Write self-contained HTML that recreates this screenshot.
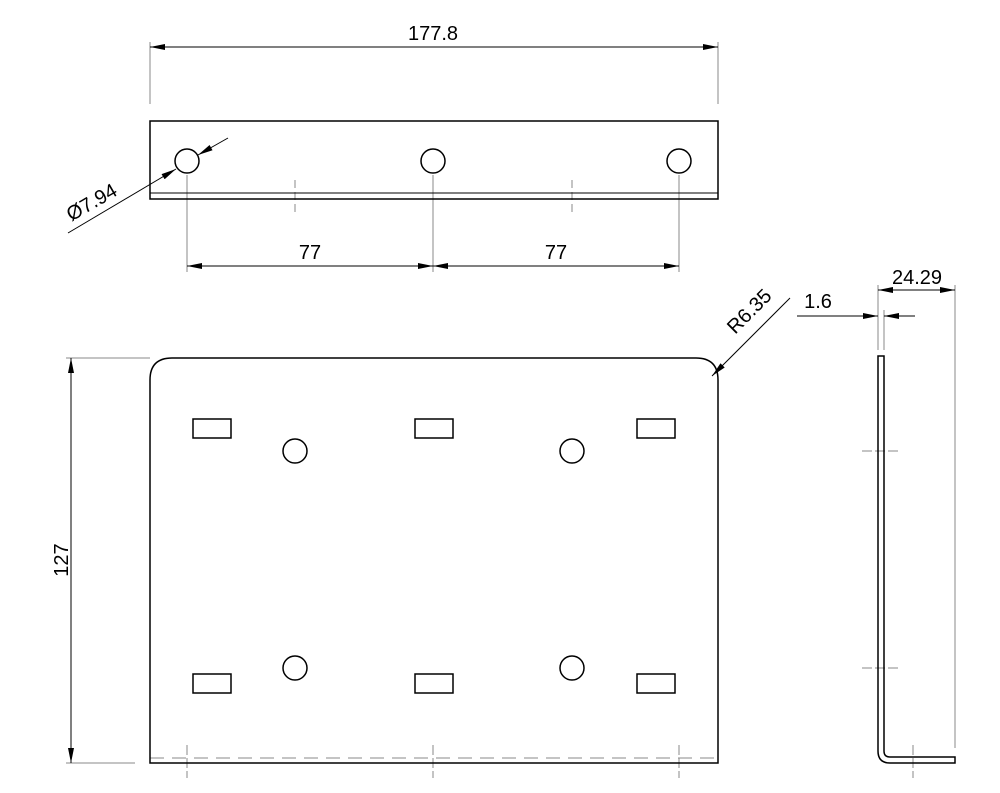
<!DOCTYPE html>
<html><head><style>body{margin:0;background:#fff}svg{display:block}text{font-family:"Liberation Sans",sans-serif;font-size:20px;fill:#000}</style></head><body>
<svg width="1000" height="793" viewBox="0 0 1000 793" xmlns="http://www.w3.org/2000/svg">
<defs><marker id="a" viewBox="0 0 10 4" refX="10" refY="2" markerWidth="18" markerHeight="6" markerUnits="userSpaceOnUse" orient="auto-start-reverse"><path d="M0,0L10,2L0,4Z" fill="#000"/></marker></defs>
<g fill="none" stroke="#888" stroke-width="1">
<line x1="150" y1="42" x2="150" y2="104"/><line x1="718" y1="42" x2="718" y2="104"/>
<line x1="187" y1="175" x2="187" y2="272"/><line x1="433" y1="175" x2="433" y2="272"/><line x1="679" y1="175" x2="679" y2="272"/>
<line x1="295" y1="180" x2="295" y2="213" stroke-dasharray="8 4"/><line x1="572" y1="180" x2="572" y2="213" stroke-dasharray="8 4"/>
<line x1="66" y1="358" x2="150" y2="358"/><line x1="66" y1="763" x2="135" y2="763"/>
<line x1="955" y1="285" x2="955" y2="748"/><line x1="878" y1="285" x2="878" y2="350"/><line x1="884" y1="310" x2="884" y2="350"/>
<line x1="150" y1="758" x2="718" y2="758" stroke-dasharray="14 8"/>
<line x1="187" y1="745" x2="187" y2="778" stroke-dasharray="10 3"/><line x1="433" y1="745" x2="433" y2="778" stroke-dasharray="10 3"/><line x1="679" y1="745" x2="679" y2="778" stroke-dasharray="10 3"/>
<line x1="862" y1="451" x2="898" y2="451" stroke-dasharray="10 3"/><line x1="862" y1="668" x2="898" y2="668" stroke-dasharray="10 3"/>
<line x1="913" y1="745" x2="913" y2="778" stroke-dasharray="10 3"/>
</g>
<g fill="none" stroke="#000" stroke-width="1">
<line x1="150" y1="47" x2="718" y2="47" marker-start="url(#a)" marker-end="url(#a)"/>
<line x1="187" y1="266" x2="433" y2="266" marker-start="url(#a)" marker-end="url(#a)"/>
<line x1="433" y1="266" x2="679" y2="266" marker-start="url(#a)" marker-end="url(#a)"/>
<line x1="71" y1="358" x2="71" y2="763" marker-start="url(#a)" marker-end="url(#a)"/>
<line x1="878" y1="290" x2="955" y2="290" marker-start="url(#a)" marker-end="url(#a)"/>
<line x1="797" y1="316" x2="878" y2="316" marker-end="url(#a)"/>
<line x1="915" y1="316" x2="884" y2="316" marker-end="url(#a)"/>
<line x1="68" y1="233" x2="176" y2="169" marker-end="url(#a)"/>
<line x1="228" y1="138" x2="198" y2="155" marker-end="url(#a)"/>
<line x1="790" y1="298" x2="712" y2="376" marker-end="url(#a)"/>
<line x1="150" y1="193" x2="718" y2="193"/>
</g>
<g fill="none" stroke="#000" stroke-width="1.5">
<rect x="150" y="121" width="568" height="78"/>
<circle cx="187" cy="161" r="12"/><circle cx="433" cy="161" r="12"/><circle cx="679" cy="161" r="12"/>
<path d="M150,763V380Q150,358 172,358H696Q718,358 718,380V763Z"/>
<rect x="193" y="419" width="38" height="19"/><rect x="415" y="419" width="38" height="19"/><rect x="637" y="419" width="38" height="19"/>
<rect x="193" y="674" width="38" height="19"/><rect x="415" y="674" width="38" height="19"/><rect x="637" y="674" width="38" height="19"/>
<circle cx="295" cy="451" r="12"/><circle cx="572" cy="451" r="12"/><circle cx="295" cy="668" r="12"/><circle cx="572" cy="668" r="12"/>
<path d="M878,356V751Q878,763 890,763H955V757H890Q884,757 884,751V356Z"/>
</g>
<text x="433" y="40" text-anchor="middle">177.8</text>
<text x="310" y="259" text-anchor="middle">77</text>
<text x="556" y="259" text-anchor="middle">77</text>
<text transform="translate(68,560) rotate(-90)" text-anchor="middle">127</text>
<text x="818" y="308" text-anchor="middle">1.6</text>
<text x="917" y="284" text-anchor="middle">24.29</text>
<text transform="translate(95,208) rotate(-30)" text-anchor="middle">Ø7.94</text>
<text transform="translate(754,316) rotate(-45)" text-anchor="middle">R6.35</text>
</svg>
</body></html>
